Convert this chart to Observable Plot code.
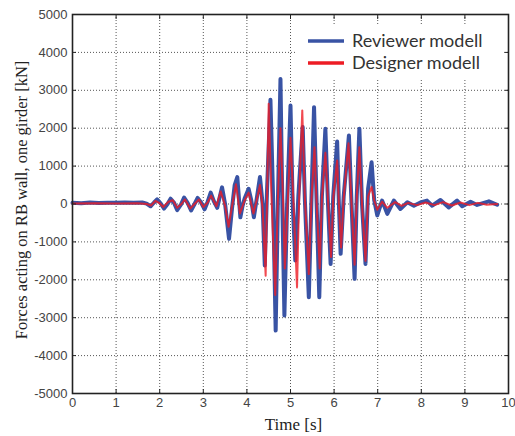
<!DOCTYPE html>
<html><head><meta charset="utf-8">
<script src="https://cdn.jsdelivr.net/npm/d3@7"></script>
<script src="https://cdn.jsdelivr.net/npm/@observablehq/plot@0.6"></script>
<style>body{margin:0;background:#fff} svg{display:block}</style>
</head><body><div id="chart"></div>
<script>
const reviewerTime = [0.0,0.2,0.4,0.6,0.8,1.0,1.2,1.4,1.6,1.7,1.79,1.87,1.94,2.02,2.10,2.18,2.25,2.33,2.40,2.49,2.56,2.64,2.72,2.80,2.87,2.95,3.03,3.10,3.17,3.24,3.32,3.38,3.43,3.50,3.59,3.66,3.72,3.78,3.85,3.90,3.95,4.04,4.10,4.16,4.22,4.30,4.36,4.41,4.46,4.54,4.60,4.66,4.71,4.77,4.81,4.86,4.92,5.00,5.05,5.11,5.18,5.28,5.33,5.42,5.48,5.54,5.60,5.66,5.72,5.80,5.86,5.92,5.98,6.07,6.11,6.15,6.22,6.34,6.40,6.47,6.52,6.58,6.64,6.72,6.78,6.86,6.92,6.99,7.10,7.22,7.37,7.52,7.68,7.83,7.98,8.13,8.25,8.44,8.63,8.82,8.94,9.13,9.28,9.55,9.74];
const reviewerForce = [30,20,40,25,35,30,40,30,40,10,-60,40,120,20,-120,0,140,30,-160,-10,170,30,-170,0,160,40,-140,60,300,80,-100,200,440,0,-920,-100,500,710,-350,-50,150,400,100,-350,100,710,0,-1620,300,2750,200,-3340,0,3300,200,-2940,-100,2600,0,-1490,200,2030,100,-2460,100,2555,0,-2460,200,1985,0,-1580,200,1650,0,-1315,200,1808,0,-1975,200,1985,0,-1580,400,1100,100,-300,90,-260,90,-130,45,-45,40,90,-45,105,-90,90,-60,60,-25,70,-20];
const designerTime = [0.0,0.5,1.0,1.5,1.7,1.8,1.9,2.0,2.08,2.2,2.3,2.4,2.5,2.58,2.7,2.8,2.9,3.0,3.1,3.18,3.3,3.4,3.5,3.58,3.66,3.75,3.84,3.95,4.04,4.15,4.22,4.30,4.36,4.43,4.50,4.56,4.65,4.71,4.77,4.83,4.87,5.00,5.07,5.15,5.20,5.27,5.33,5.42,5.48,5.55,5.60,5.67,5.72,5.80,5.86,5.93,5.98,6.07,6.11,6.16,6.22,6.33,6.40,6.47,6.52,6.58,6.64,6.72,6.78,6.86,6.92,6.99,7.10,7.22,7.40,7.55,7.70,7.90,8.10,8.30,8.50,8.70,8.90,9.10,9.30,9.50,9.74];
const designerForce = [10,20,10,20,0,-40,80,20,-80,60,100,-100,0,120,-120,0,120,-80,40,220,-60,330,-50,-600,-50,520,-250,100,300,-250,80,500,-100,-1890,2645,300,-2400,100,2000,100,-1700,1750,0,-2200,200,2470,150,-1850,100,1500,0,-1700,150,1350,100,-1400,150,1150,0,-1150,150,1600,0,-1600,150,1500,0,-1500,200,450,100,-150,60,-100,50,-50,30,-30,40,-30,50,-40,40,-30,30,-20,0];
const xTicks = [0,1,2,3,4,5,6,7,8,9,10];
const yTicks = [-5000,-4000,-3000,-2000,-1000,0,1000,2000,3000,4000,5000];
const seriesNames = ["Reviewer modell","Designer modell"];
const seriesColors = ["#3953a4","#ed1c24"];
const xLabel = "Time [s]";
const yLabel = "Forces acting on RB wall, one girder [kN]";

const reviewer = reviewerTime.map((t,i)=>({t, f: reviewerForce[i]}));
const designer = designerTime.map((t,i)=>({t, f: designerForce[i]}));
const fmt = d => String(d);

const plot = Plot.plot({
  width: 515, height: 436,
  marginLeft: 72, marginRight: 7, marginTop: 14, marginBottom: 43,
  x: {domain: [0,10]},
  y: {domain: [-5000,5000]},
  style: {fontFamily: "'Liberation Sans', Arial, sans-serif", fontSize: "13px", color: "#444", background: "#fff"},
  marks: [
    Plot.gridX(xTicks, {stroke: "#444", strokeOpacity: 0.9, strokeDasharray: "1,2"}),
    Plot.gridY(yTicks, {stroke: "#444", strokeOpacity: 0.9, strokeDasharray: "1,2"}),
    Plot.line(reviewer, {x: "t", y: "f", stroke: seriesColors[0], strokeWidth: 4}),
    Plot.line(designer, {x: "t", y: "f", stroke: seriesColors[1], strokeWidth: 2, strokeOpacity: 0.8}),
    Plot.axisX(xTicks, {anchor: "bottom", tickSize: 0, tickPadding: 4, label: null, fill: "#444", tickFormat: fmt}),
    Plot.axisY(yTicks, {anchor: "left", tickSize: 0, tickPadding: 5, label: null, fill: "#444", tickFormat: fmt}),
    Plot.axisX(xTicks, {anchor: "top", tickSize: -4, text: null, label: null, stroke: "#222"}),
    Plot.axisX(xTicks, {anchor: "bottom", tickSize: -4, text: null, label: null, stroke: "#222"}),
    Plot.axisY(yTicks, {anchor: "left", tickSize: -4, text: null, label: null, stroke: "#222"}),
    Plot.axisY(yTicks, {anchor: "right", tickSize: -4, text: null, label: null, stroke: "#222"}),
    Plot.frame({stroke: "#222", strokeWidth: 1.6}),
    Plot.text([xLabel], {text: d => d, frameAnchor: "bottom", dx: 3, dy: 36, lineAnchor: "bottom", textAnchor: "middle", fontFamily: "'Liberation Serif', 'Times New Roman', serif", fontSize: 17, fill: "#222"}),
    Plot.text([yLabel], {text: d => d, frameAnchor: "left", dx: -51, dy: -4, rotate: -90, textAnchor: "middle", fontFamily: "'Liberation Serif', 'Times New Roman', serif", fontSize: 16.5, fill: "#222"})
  ]
});

// legend inside the plot
const svg = d3.select(plot);
const lg = svg.append("g").attr("text-anchor", "start");
lg.append("rect").attr("x", 296).attr("y", 26).attr("width", 208).attr("height", 54).attr("fill", "#fff");
seriesNames.forEach((name, i) => {
  const y = 41 + i * 22;
  lg.append("line").attr("x1", 308).attr("x2", 344).attr("y1", y).attr("y2", y)
    .attr("stroke", seriesColors[i]).attr("stroke-width", 3.5);
  lg.append("text").attr("x", 352).attr("y", y).attr("dy", "0.35em")
    .attr("font-family", "Lato, 'Open Sans', sans-serif").attr("font-size", 18)
    .attr("fill", "#333").text(name);
});

document.getElementById("chart").appendChild(plot);
</script>
</body></html>
